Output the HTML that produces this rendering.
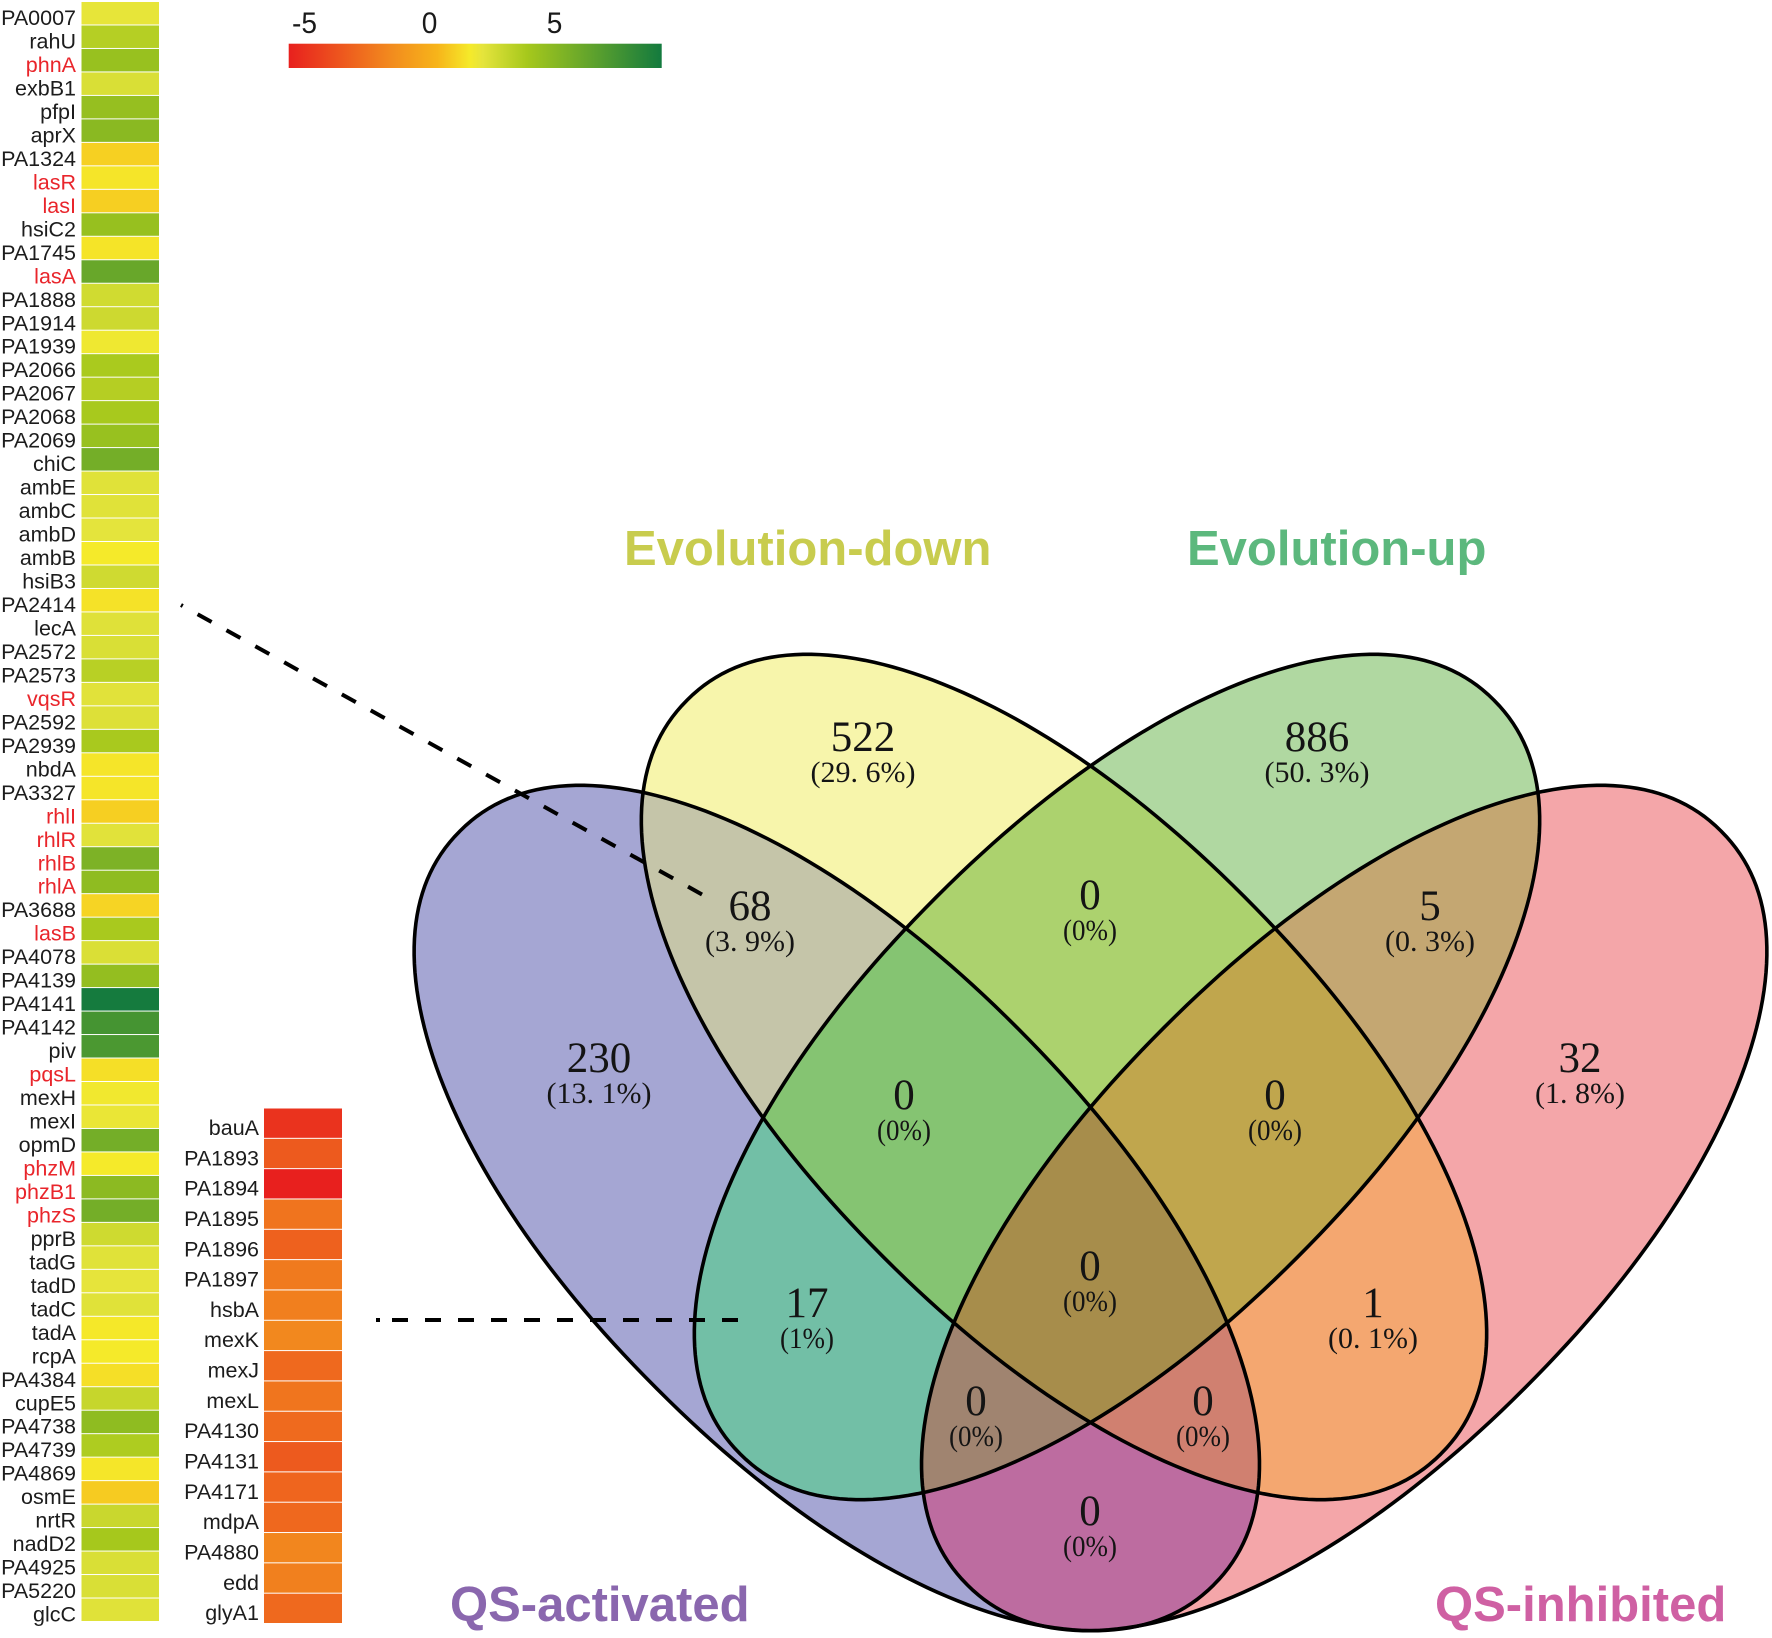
<!DOCTYPE html>
<html lang="en">
<head>
<meta charset="utf-8">
<title>Venn diagram with gene heatmaps</title>
<style>
  html, body { margin: 0; padding: 0; background: #ffffff; overflow: hidden; }
  #chart { display: block; width: 1772px; height: 1638px; }
  text { font-family: "Liberation Sans", Arial, sans-serif; }
  .gene { font-size: 21.5px; text-anchor: end; fill: #1c1c1c; }
  .gene.red { fill: #e9252b; }
  .tick { font-size: 30px; text-anchor: middle; fill: #1a1a1a; }
  .title { font-size: 49px; font-weight: bold; }
  .count { font-family: "Liberation Serif", serif; font-size: 43px; text-anchor: middle; fill: #141414; }
  .pct { font-family: "Liberation Serif", serif; font-size: 30px; text-anchor: middle; fill: #141414; }
</style>
</head>
<body>
<svg id="chart" xmlns="http://www.w3.org/2000/svg" width="1772" height="1638" viewBox="0 0 1772 1638">
  <defs id="defs">
    <linearGradient id="legend-gradient" gradientUnits="userSpaceOnUse" x1="288.7" y1="0" x2="661.7" y2="0"></linearGradient>
  </defs>
  <g id="heat-left"></g>
  <g id="heat-right"></g>
  <g id="legend"></g>
  <g id="venn-regions"></g>
  <g id="venn-outlines" fill="none" stroke="#000" stroke-width="3.6"></g>
  <line x1="181" y1="605" x2="703" y2="895" stroke="#000" stroke-width="4" stroke-dasharray="16 17" stroke-dashoffset="14"/>
  <line x1="376" y1="1320" x2="738" y2="1320" stroke="#000" stroke-width="4" stroke-dasharray="4 12 16 17 16 17 16 17 16 17 16 17 16 17 16 17 16 17 16 17 16 17 16 17 16 100"/>
  <g id="venn-labels"></g>
  <text class="title" x="624" y="565" fill="#c8cc4e">Evolution-down</text>
  <text class="title" x="1187" y="565" fill="#5cb87d">Evolution-up</text>
  <text class="title" x="450" y="1621" fill="#8a67ae">QS-activated</text>
  <text class="title" x="1435" y="1621" fill="#cf60a3">QS-inhibited</text>
</svg>
<script>
const leftGenes = ["PA0007","rahU","phnA","exbB1","pfpI","aprX","PA1324","lasR","lasI","hsiC2","PA1745","lasA","PA1888","PA1914","PA1939","PA2066","PA2067","PA2068","PA2069","chiC","ambE","ambC","ambD","ambB","hsiB3","PA2414","lecA","PA2572","PA2573","vqsR","PA2592","PA2939","nbdA","PA3327","rhlI","rhlR","rhlB","rhlA","PA3688","lasB","PA4078","PA4139","PA4141","PA4142","piv","pqsL","mexH","mexI","opmD","phzM","phzB1","phzS","pprB","tadG","tadD","tadC","tadA","rcpA","PA4384","cupE5","PA4738","PA4739","PA4869","osmE","nrtR","nadD2","PA4925","PA5220","glcC"];
const leftValues = [2.03,3.45,4.39,2.44,4.47,4.91,0.97,1.48,0.94,4.42,1.45,6.15,2.69,2.79,1.8,3.77,3.47,3.81,4.39,5.71,2.24,2.24,2.12,1.6,2.72,1.4,2.26,2.44,3.36,2.21,2.33,3.79,1.48,1.48,0.94,2.21,5.39,4.72,1.07,3.79,2.42,4.54,9.2,7.44,7.22,1.34,1.74,1.94,5.71,1.6,4.85,5.71,2.74,2.24,2.06,2.24,1.55,1.6,1.34,2.99,4.72,3.65,1.5,0.85,2.9,3.88,2.44,2.44,2.24];
const rightGenes = ["bauA","PA1893","PA1894","PA1895","PA1896","PA1897","hsbA","mexK","mexJ","mexL","PA4130","PA4131","PA4171","mdpA","PA4880","edd","glyA1"];
const rightValues = [-4.93,-3.44,-5.66,-2.44,-3.17,-2.21,-2.02,-1.68,-2.86,-2.4,-2.82,-3.44,-3.02,-2.9,-1.75,-1.98,-2.86];
const highlightedGenes = ["phnA","lasR","lasI","lasA","vqsR","rhlI","rhlR","rhlB","rhlA","lasB","pqsL","phzM","phzB1","phzS"];
const legendTicks = [-5, 0, 5];
const scaleStops = [-5.66, -1.6, 0.28, 1.6, 2.1, 3.88, 9.27];
const scaleColors = ["#e8201e", "#f28a1e", "#f7b41a", "#f5ea2a", "#e5e43c", "#a6c81c", "#137a3e"];
const regionSets = ["P","Y","G","R","PY","YG","GR","PG","YR","PR","PYG","YGR","PGR","PYR","PYGR"];
const regionCounts = [230,522,886,32,68,0,5,17,1,0,0,0,0,0,0];
const regionPercents = ["(13. 1%)","(29. 6%)","(50. 3%)","(1. 8%)","(3. 9%)","(0%)","(0. 3%)","(1%)","(0. 1%)","(0%)","(0%)","(0%)","(0%)","(0%)","(0%)"];

const NS = "http://www.w3.org/2000/svg";
function make(tag, attrs, parent, text) {
  const el = document.createElementNS(NS, tag);
  for (const k in attrs) el.setAttribute(k, attrs[k]);
  if (text !== undefined) el.textContent = text;
  parent.appendChild(el);
  return el;
}
function hexToRgb(h) { return [1, 3, 5].map(i => parseInt(h.substr(i, 2), 16)); }
function colorFor(v) {
  const last = scaleStops.length - 1;
  if (v <= scaleStops[0]) return scaleColors[0];
  if (v >= scaleStops[last]) return scaleColors[last];
  let i = 0;
  while (v > scaleStops[i + 1]) i++;
  const t = (v - scaleStops[i]) / (scaleStops[i + 1] - scaleStops[i]);
  const a = hexToRgb(scaleColors[i]), b = hexToRgb(scaleColors[i + 1]);
  return "rgb(" + a.map((c, j) => Math.round(c + (b[j] - c) * t)).join(",") + ")";
}
function legendX(v) { return 429.5 + 25 * v; }

function drawHeat(groupId, genes, values, box) {
  const group = document.getElementById(groupId);
  const pitch = (box.bottom - box.top) / genes.length;
  genes.forEach((gene, i) => {
    const y = box.top + pitch * i;
    const cell = make("rect", { x: box.x, y: y, width: box.w, height: pitch - 1, fill: colorFor(values[i]) }, group);
    
    
    const cls = highlightedGenes.indexOf(gene) >= 0 ? "gene red" : "gene";
    const label = make("text", { class: cls, x: box.labelX, y: y + pitch / 2 + 11.3 }, group, gene);
    
    
  });
}
drawHeat("heat-left", leftGenes, leftValues, { x: 81.5, w: 77.5, top: 2, bottom: 1622, labelX: 76 });
drawHeat("heat-right", rightGenes, rightValues, { x: 264, w: 78, top: 1108.5, bottom: 1624, labelX: 259 });

(function drawLegend() {
  const grad = document.getElementById("legend-gradient");
  const min = scaleStops[0], max = scaleStops[scaleStops.length - 1];
  scaleStops.forEach((s, i) => {
    make("stop", { offset: (s - min) / (max - min), "stop-color": scaleColors[i] }, grad);
  });
  const legend = document.getElementById("legend");
  const bar = make("rect", { x: 288.7, y: 43.7, width: 373, height: 24.3, fill: "url(#legend-gradient)" }, legend);
  
  
  legendTicks.forEach(t => {
    const label = make("text", { class: "tick", x: legendX(t), y: 33, textLength: t < 0 ? 25 : 15.6, lengthAdjust: "spacingAndGlyphs" }, legend, String(t));
    
    
  });
})();

function lobePath(cx, cy, angleDeg) {
  const a = 533, b = 255, n = 2.1, steps = 240;
  const r = angleDeg * Math.PI / 180, cr = Math.cos(r), sr = Math.sin(r);
  let d = "";
  for (let i = 0; i < steps; i++) {
    const t = 2 * Math.PI * i / steps;
    const c = Math.cos(t), s = Math.sin(t);
    const u = a * Math.sign(c) * Math.pow(Math.abs(c), 2 / n);
    const v = b * Math.sign(s) * Math.pow(Math.abs(s), 2 / n);
    d += (i ? "L" : "M") + (cx + u * cr - v * sr).toFixed(2) + " " + (cy + u * sr + v * cr).toFixed(2);
  }
  return d + "Z";
}

(function drawVenn() {
  const lobes = {
    P: { d: lobePath(836.8, 1208, 45), name: "qs-activated-outline" },
    Y: { d: lobePath(1064, 1077, 45), name: "evolution-down-outline" },
    G: { d: lobePath(1117, 1077, -45), name: "evolution-up-outline" },
    R: { d: lobePath(1344.2, 1208, -45), name: "qs-inhibited-outline" }
  };
  const defs = document.getElementById("defs");
  const outlines = document.getElementById("venn-outlines");
  ["P", "Y", "G", "R"].forEach(k => {
    const clip = make("clipPath", { id: "clip-" + k }, defs);
    make("path", { d: lobes[k].d }, clip);
    const outline = make("path", { d: lobes[k].d }, outlines);
    
    
  });
  const fills = { P:"#a5a6d3", Y:"#f7f5ab", G:"#b0d8a1", R:"#f4a6a9", PY:"#c5c5a9", YG:"#acd26e", GR:"#c4a772", PG:"#72bfa6", YR:"#f4a770", PR:"#bd6ca0", PYG:"#85c472", YGR:"#c0a64d", PGR:"#a08470", PYR:"#d08070", PYGR:"#a78d4b" };
  const anchors = { P:[599,1057], Y:[863,736], G:[1317,736], R:[1580,1057], PY:[750,905], YG:[1090,894], GR:[1430,905], PG:[807,1302], YR:[1373,1302], PR:[1090,1510], PYG:[904,1094], YGR:[1275,1094], PGR:[976,1400], PYR:[1203,1400], PYGR:[1090,1265] };
  const regions = document.getElementById("venn-regions");
  const labels = document.getElementById("venn-labels");
  regionSets.forEach((key, i) => {
    let parent = regions;
    key.split("").forEach(s => { parent = make("g", { "clip-path": "url(#clip-" + s + ")" }, parent); });
    const area = make("rect", { x: 0, y: 0, width: 1772, height: 1638, fill: fills[key] }, parent);
    
    
    const a = anchors[key];
    const count = make("text", { class: "count", x: a[0], y: a[1] + 15 }, labels, String(regionCounts[i]));
    
    
    const pct = make("text", { class: "pct", x: a[0], y: a[1] + 46 }, labels, regionPercents[i]);
    if (regionPercents[i].length === 4) {
      pct.setAttribute("textLength", "54");
      pct.setAttribute("lengthAdjust", "spacingAndGlyphs");
    }
    
    
  });
})();
</script>
</body>
</html>
